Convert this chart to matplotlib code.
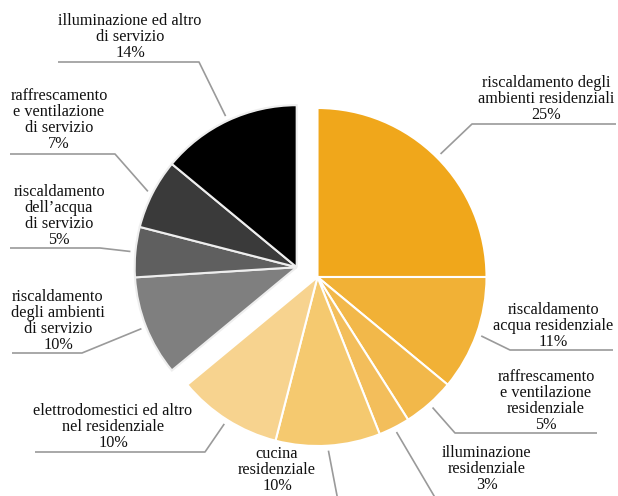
import numpy as np
import matplotlib
matplotlib.use("Agg")
import matplotlib.pyplot as plt

# ---- data ----
categories = [
    "riscaldamento degli\nambienti residenziali",
    "riscaldamento\nacqua residenziale",
    "raffrescamento\ne ventilazione\nresidenziale",
    "illuminazione\nresidenziale",
    "cucina\nresidenziale",
    "elettrodomestici ed altro\nnel residenziale",
    "riscaldamento\ndegli ambienti\ndi servizio",
    "riscaldamento\ndell\u2019acqua\ndi servizio",
    "raffrescamento\ne ventilazione\ndi servizio",
    "illuminazione ed altro\ndi servizio",
]
values = [25, 11, 5, 3, 10, 10, 10, 5, 7, 14]
is_service = [False] * 6 + [True] * 4
colors = ["#F0A71B", "#F1B136", "#F2B84A", "#F3BE5B", "#F5C96F", "#F7D38F",
          "#7F7F7F", "#5F5F5F", "#3A3A3A", "#000000"]

# ---- layout (pixel coords, y from top) ----
W, H = 618, 496
center_px = (317.5, 277)
radius = 169
service_radius = 162
explode_dist = 23
# text block centers
text_pos = [(546, 99), (553, 326), (546, 401), (487, 469), (277, 470),
            (113, 427), (58, 321), (59, 216), (59, 120), (130, 37)]
# leader: (elbow x, elbow y, end x)
leaders = [(472, 124, 616), (510, 350, 613), (455, 433, 597), (440, 506, 540),
           (339, 506, 300), (205, 452, 35), (82, 353, 12), (100, 248, 10),
           (115, 154, 10), (199, 62, 58)]

fig = plt.figure(figsize=(W / 100, H / 100), dpi=100)
ax = fig.add_axes([0, 0, 1, 1])

cx, cy = center_px[0], H - center_px[1]
wedges, _ = ax.pie(values, colors=colors, startangle=90, counterclock=False,
                   radius=radius, center=(cx, cy),
                   wedgeprops=dict(edgecolor="white", linewidth=1.5))

total = sum(values)
cum = np.cumsum([0] + values[:-1])
mid_angles = [90 - 360 * (c + v / 2) / total for c, v in zip(cum, values)]

# group explode for service slices
svc_start = sum(v for v, s in zip(values, is_service) if not s)
grp_mid = np.deg2rad(90 - 360 * (svc_start + (total - svc_start) / 2) / total)
dx, dy = explode_dist * np.cos(grp_mid), explode_dist * np.sin(grp_mid)
for w, s in zip(wedges, is_service):
    if s:
        w.set_center((cx + dx, cy + dy))
        w.set_radius(service_radius)
        w.set_edgecolor("#EEEEEE")

font = dict(family=["Liberation Serif", "DejaVu Serif"], size=11.7)
for i, (lab, v) in enumerate(zip(categories, values)):
    s = is_service[i]
    ccx, ccy = (cx + dx, cy + dy) if s else (cx, cy)
    r = (service_radius if s else radius) + 5
    a = np.deg2rad(mid_angles[i])
    ax0, ay0 = ccx + r * np.cos(a), ccy + r * np.sin(a)
    ex, ey, endx = leaders[i]
    ax.plot([ax0, ex, endx], [ay0, H - ey, H - ey], color="#9A9A9A", lw=1.2,
            solid_capstyle="butt", zorder=1)
    tx, ty = text_pos[i]
    ax.text(tx, H - ty, f"{lab}\n{v}%", ha="center", va="center",
            multialignment="center", linespacing=1.0, color="#111111", **font)

ax.set_xlim(0, W)
ax.set_ylim(0, H)
ax.set_aspect("auto")
ax.axis("off")
fig.savefig("out.png", dpi=100)
